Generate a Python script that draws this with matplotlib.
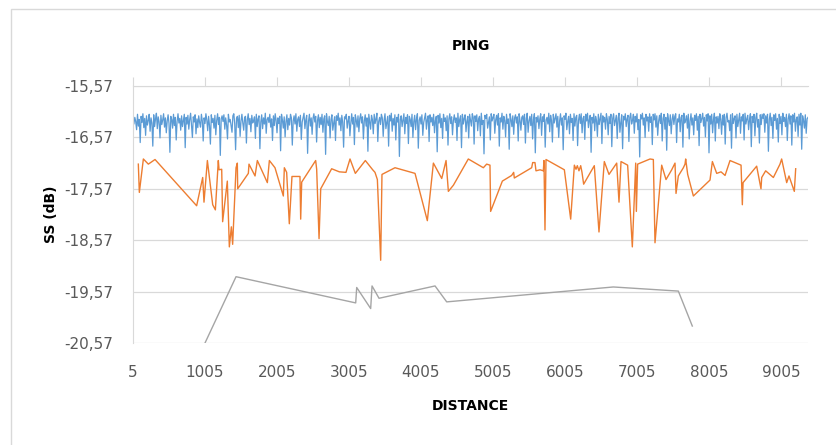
import matplotlib

matplotlib.use("Agg")
import matplotlib.pyplot as plt
import numpy as np
from matplotlib.patches import Rectangle

# --------------------------------------------------------------------------- #
# Data
# --------------------------------------------------------------------------- #
# blue series: one reading every 12.5 distance units, stored as hundredths
# below -16 dB (18 -> -16.18)
BLUE_STEP = 12.5
blue_depth = [
    14, 31, 18, 26, 42, 12, 35, 22, 67, 16, 28, 11, 38, 20, 53, 15, 33, 24, 12, 45, 19, 29, 74, 13, 36,
    21, 10, 40, 17, 27, 58, 14, 32, 23, 11, 37, 19, 48, 25, 13, 30, 86, 16, 22, 39, 12, 34, 18, 62, 26,
    11, 29, 20, 43, 15, 36, 24, 12, 77, 18, 31, 14, 41, 22, 10, 33, 57, 17, 27, 13, 50, 21, 38, 15, 28,
    37, 12, 25, 64, 19, 30, 11, 23, 44, 16, 34, 70, 13, 28, 20, 39, 14, 52, 24, 11, 32, 18, 92, 21, 15,
    26, 13, 41, 19, 33, 60, 12, 27, 22, 35, 47, 15, 11, 30, 81, 20, 16, 38, 14, 55, 25, 12, 29, 43, 18,
    16, 68, 23, 11, 32, 20, 46, 14, 29, 24, 17, 59, 12, 36, 21, 15, 79, 27, 13, 40, 19, 31, 10, 49, 22,
    18, 28, 12, 37, 21, 63, 15, 34, 11, 24, 48, 19, 30, 16, 83, 12, 23, 39, 17, 56, 26, 13, 42, 20, 33,
    12, 19, 72, 25, 15, 31, 11, 45, 22, 17, 36, 14, 61, 27, 18, 10, 40, 23, 14, 88, 26, 12, 35, 19, 51,
    20, 11, 27, 16, 66, 24, 13, 38, 18, 32, 12, 47, 21, 15, 90, 11, 26, 34, 16, 58, 22, 13, 43, 29, 17,
    63, 15, 24, 10, 33, 19, 44, 14, 28, 76, 17, 21, 12, 39, 25, 16, 54, 30, 11, 31, 18, 71, 13, 23, 37,
    15, 46, 20, 11, 29, 17, 60, 25, 13, 35, 19, 84, 12, 27, 41, 14, 22, 50, 12, 30, 21, 10, 65, 26, 18,
    32, 12, 19, 55, 23, 11, 40, 28, 16, 74, 14, 25, 10, 45, 20, 33, 13, 62, 18, 27, 12, 94, 22, 15, 36,
    24, 11, 50, 18, 30, 13, 69, 16, 22, 36, 12, 57, 26, 14, 42, 21, 11, 78, 24, 17, 31, 13, 53, 28, 19,
    10, 41, 22, 15, 65, 13, 27, 18, 34, 12, 48, 24, 16, 85, 14, 29, 11, 38, 20, 59, 12, 26, 19, 44, 15,
    72, 21, 11, 30, 17, 52, 24, 13, 28, 19, 63, 10, 36, 22, 15, 77, 12, 31, 20, 13, 46, 25, 16, 58, 12,
    23, 35, 11, 18, 70, 15, 26, 13, 44, 21, 16, 54, 10, 32, 24, 89, 14, 20, 12, 39, 28, 17, 62, 11, 25,
    18, 12, 49, 23, 14, 33, 11, 74, 19, 27, 10, 41, 16, 24, 56, 12, 30, 21, 80, 11, 22, 36, 15, 51, 19,
    13, 29, 17, 64, 11, 24, 43, 18, 15, 32, 12, 68, 20, 10, 47, 25, 16, 34, 12, 60, 22, 11, 87, 18, 27,
    15, 40, 21, 11, 53, 17, 26, 12, 76, 23, 18, 31, 10, 46, 14, 24, 66, 12, 29, 20, 11, 37, 16, 57, 25,
    11, 33, 19, 81, 15, 22, 10, 42, 26, 16, 50, 12, 28, 20, 63, 11, 35, 18, 14, 73, 24, 12, 30, 11, 48,
    20, 16, 61, 12, 25, 10, 38, 23, 14, 86, 18, 29, 11, 44, 16, 24, 55, 12, 32, 21, 10, 69, 15, 27, 18,
    41, 11, 22, 52, 16, 30, 12, 75, 20, 11, 34, 24, 14, 59, 19, 10, 47, 28, 13, 79, 16, 23, 11, 36, 21,
    14, 65, 18, 10, 31, 24, 12, 49, 16, 27, 11, 42, 22, 95, 13, 21, 10, 33, 19, 57, 12, 25, 17, 45, 11,
    28, 17, 71, 12, 23, 11, 37, 15, 53, 26, 14, 30, 10, 64, 20, 12, 41, 18, 82, 11, 24, 34, 13, 50, 22,
    12, 32, 16, 11, 67, 21, 27, 12, 46, 18, 14, 76, 10, 29, 23, 15, 39, 12, 60, 25, 11, 33, 19, 52, 14,
    24, 11, 43, 16, 73, 12, 28, 20, 10, 35, 18, 56, 13, 25, 11, 87, 15, 31, 12, 48, 22, 10, 64, 17, 29,
    16, 40, 11, 22, 51, 14, 33, 12, 70, 18, 10, 27, 24, 44, 13, 78, 11, 30, 20, 15, 58, 12, 36, 23, 10,
    49, 17, 25, 12, 62, 10, 31, 21, 14, 42, 23, 11, 75, 16, 28, 12, 54, 19, 10, 37, 22, 68, 13, 32, 12,
    20, 11, 47, 15, 29, 12, 84, 22, 10, 34, 18, 59, 13, 24, 11, 41, 20, 66, 12, 30, 16, 52, 10, 26, 18,
    36, 12, 63, 21, 11, 31, 15, 72, 13, 27, 10, 45, 22, 17, 55, 12, 33, 10, 80, 15, 24, 39, 13, 49, 21,
    18,
]

orange_x = [
    79, 93, 149, 218, 311, 889, 973, 991, 1038, 1112, 1149, 1190, 1200, 1237, 1250,
    1315, 1343, 1371, 1389, 1436, 1454, 1459, 1607, 1616, 1700, 1732, 1871, 1899,
    1977, 2093, 2107, 2139, 2176, 2213, 2324, 2334, 2348, 2542, 2556, 2589, 2612,
    2764, 2871, 2963, 3019, 3093, 3232, 3334, 3366, 3399, 3445, 3463, 3644, 3922,
    4093, 4177, 4293, 4353, 4385, 4455, 4662, 4871, 4917, 4963, 4972, 5135, 5264,
    5292, 5301, 5542, 5556, 5588, 5602, 5658, 5704, 5713, 5727, 5741, 5996, 6084,
    6135, 6158, 6176, 6199, 6223, 6241, 6264, 6412, 6477, 6551, 6616, 6723, 6755,
    6783, 6875, 6940, 6987, 6996, 7014, 7186, 7232, 7255, 7348, 7408, 7487, 7533,
    7547, 7579, 7649, 7672, 7681, 7709, 7788, 8019, 8052, 8112, 8172, 8228, 8297,
    8450, 8468, 8478, 8667, 8727, 8737, 8792, 8899, 8991, 9014, 9084, 9116, 9190,
    9209,
]
orange_y = [
    -17.09, -17.64, -16.99, -17.09, -17.00, -17.90, -17.35, -17.83, -17.02, -17.88,
    -17.98, -17.02, -17.20, -17.19, -18.21, -17.42, -18.70, -18.31, -18.65, -17.16,
    -17.07, -17.57, -17.27, -17.09, -17.32, -17.02, -17.45, -17.02, -17.16, -17.71,
    -17.16, -17.25, -18.25, -17.33, -17.33, -18.16, -17.44, -17.02, -17.19, -18.54,
    -17.57, -17.18, -17.24, -17.25, -16.99, -17.27, -17.02, -17.20, -17.25, -17.39,
    -18.96, -17.29, -17.16, -17.27, -18.19, -17.07, -17.37, -17.02, -17.62, -17.50,
    -16.99, -17.16, -17.09, -17.11, -18.01, -17.42, -17.31, -17.25, -17.36, -17.16,
    -17.06, -17.06, -17.22, -17.20, -17.22, -17.02, -18.37, -17.00, -17.20, -18.16,
    -17.11, -17.19, -17.12, -17.22, -17.12, -17.25, -17.48, -17.12, -18.41, -17.04,
    -17.29, -17.07, -17.83, -17.04, -17.11, -18.70, -17.07, -18.01, -17.09, -16.99,
    -17.00, -18.62, -17.11, -17.39, -17.20, -17.07, -17.66, -17.32, -17.16, -17.09,
    -16.99, -17.29, -17.71, -17.40, -17.04, -17.27, -17.24, -17.31, -17.02, -17.11,
    -17.88, -17.45, -17.13, -17.57, -17.35, -17.22, -17.35, -17.09, -16.99, -17.45,
    -17.32, -17.62, -17.18,
]

gray_x = [1005, 1436, 3098, 3112, 3306, 3325, 3422, 4200, 4362, 6676, 7579, 7773]
gray_y = [-20.57, -19.28, -19.79, -19.49, -19.90, -19.46, -19.70, -19.46, -19.77,
          -19.48, -19.56, -20.24]

x_ticks = [5, 1005, 2005, 3005, 4005, 5005, 6005, 7005, 8005, 9005]
y_ticks = [-20.57, -19.57, -18.57, -17.57, -16.57, -15.57]

BLUE = "#5B9BD5"
ORANGE = "#ED7D31"
GRAY = "#A5A5A5"
GRID = "#D9D9D9"
TEXT = "#595959"

# --------------------------------------------------------------------------- #
# Plot
# --------------------------------------------------------------------------- #
blue_x = 5 + BLUE_STEP * np.arange(len(blue_depth))
blue_y = -16 - np.array(blue_depth) / 100.0

fig = plt.figure(figsize=(8.37, 4.45), dpi=100)
# chart-area frame, runs off the right/bottom edge like the screenshot
fig.patches.append(Rectangle((11 / 837, -0.1), 1.1, 1 - 9 / 445 + 0.1,
                             transform=fig.transFigure, fill=False,
                             edgecolor=GRID, lw=1.0))

ax = fig.add_axes([133 / 837, 1 - 343 / 445, 675 / 837, 257 / 445])
ax.plot(blue_x, blue_y, color=BLUE, lw=0.9)
ax.plot(orange_x, orange_y, color=ORANGE, lw=1.0)
ax.plot(gray_x, gray_y, color=GRAY, lw=1.0)

ax.set_xlim(5, 9380)
ax.set_ylim(-20.57, -15.57)
ax.set_xticks(x_ticks)
ax.set_xticklabels([str(t) for t in x_ticks])
ax.set_yticks(y_ticks)
ax.set_yticklabels([f"{t:.2f}".replace(".", ",") for t in y_ticks])

ax.grid(axis="y", color=GRID, lw=0.9)
ax.set_axisbelow(True)
for side in ("right", "bottom"):
    ax.spines[side].set_visible(False)
ax.spines["left"].set_color(GRID)
ax.spines["top"].set_color(GRID)
ax.spines["left"].set_bounds(-20.57, -15.57)

ax.tick_params(axis="x", which="both", bottom=False, top=True, direction="out",
               length=6.5, color=GRID, labelsize=11, labelcolor=TEXT, pad=9)
ax.tick_params(axis="y", left=False, labelsize=11, labelcolor=TEXT, pad=11)

ax.set_title("PING", fontsize=10, fontweight="bold", color="black", pad=26)
ax.set_xlabel("DISTANCE", fontsize=10, fontweight="bold", labelpad=14)
ax.set_ylabel("SS (dB)", fontsize=10, fontweight="bold", labelpad=4)

fig.savefig("out.png", dpi=100)
